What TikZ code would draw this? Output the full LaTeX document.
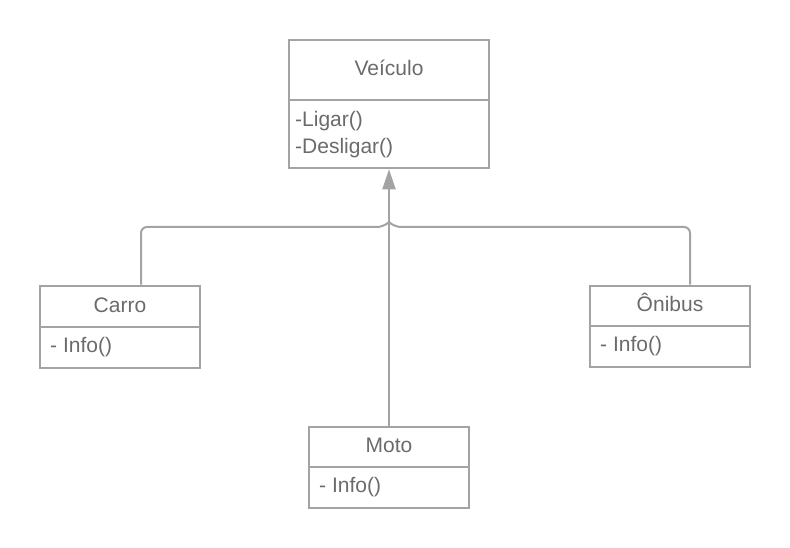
\documentclass[tikz,border=0pt]{standalone}
\usepackage{fontspec}
\setmainfont{Liberation Sans}
\usetikzlibrary{arrows.meta}
\definecolor{boxline}{HTML}{A3A3A3}
\definecolor{txt}{HTML}{6B6B6B}
\begin{document}
\begin{tikzpicture}[x=1pt,y=-1pt,
  font=\fontsize{21}{27}\selectfont,
  cell/.style={draw=boxline, line width=2.6pt, fill=white, inner sep=0pt, text=txt, text height=15pt, text depth=4pt},
  meth/.style={text=txt, inner sep=0pt, anchor=west, align=left},
  conn/.style={draw=boxline, line width=2pt}
]
\useasboundingbox (0,0) rectangle (790,548);
% Veiculo
\node[cell, minimum width=200, minimum height=60] (vh) at (389,70) {Veículo};
\node[cell, minimum width=200, minimum height=68] (vm) at (389,134) {};
\node[meth] (vt) at (295,134.5) {-Ligar()\\-Desligar()};
% Carro
\node[cell, minimum width=160, minimum height=41] (ch) at (120,306.5) {Carro};
\node[cell, minimum width=160, minimum height=41] (cm) at (120,347.5) {};
\node[meth] (ct) at (50,347.5) {- Info()};
% Onibus
\node[cell, minimum width=160, minimum height=40] (oh) at (670,306) {Ônibus};
\node[cell, minimum width=160, minimum height=41] (om) at (670,346.5) {};
\node[meth] (ot) at (600,346.5) {- Info()};
% Moto
\node[cell, minimum width=160, minimum height=40] (mh) at (389,447) {Moto};
\node[cell, minimum width=160, minimum height=41] (mm) at (389,487.5) {};
\node[meth] (mt) at (319,487.5) {- Info()};
% connectors
\coordinate (join) at (389,222);
\draw[conn, -{Triangle[width=13pt,length=20pt]}] (mh.north) -- (vm.south);
\draw[conn, rounded corners=6pt] (ch.north -| 141,0) -- (141,227) -- (383,227) -- (join);
\draw[conn, rounded corners=6pt] (oh.north -| 690,0) -- (690,227) -- (395,227) -- (join);
\end{tikzpicture}
\end{document}
